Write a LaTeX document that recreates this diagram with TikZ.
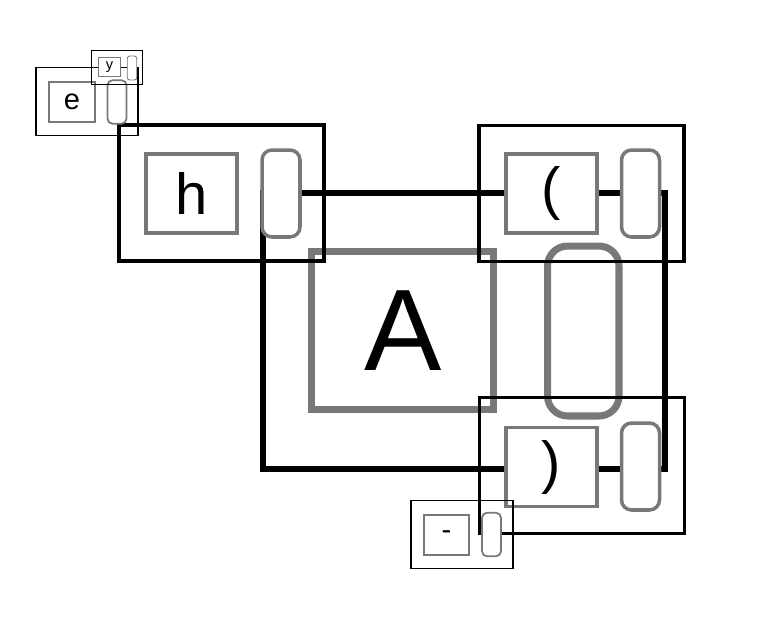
\documentclass[tikz,border=0pt]{standalone}
\usepackage{fontspec}
\setmainfont{Liberation Sans}
\usepackage{tikz}
\usetikzlibrary{positioning}

\definecolor{boxgray}{RGB}{120,120,120}

\begin{document}
\begin{tikzpicture}[
    x=0.02cm, y=-0.02cm,
    frame/.style={draw=black, inner sep=0pt, minimum width=#1*4.1cm, minimum height=#1*2.72cm, line width=#1*1.9pt},
    sq/.style={draw=boxgray, fill=white, inner sep=0pt, minimum width=#1*1.82cm, minimum height=#1*1.58cm, line width=#1*2pt},
    pill/.style={draw=boxgray, fill=white, inner sep=0pt, rounded corners=#1*0.2cm, minimum width=#1*0.76cm, minimum height=#1*1.74cm, line width=#1*2pt}
]
    \useasboundingbox (0,0) rectangle (760,632);

    % big block
    \node[frame=2, minimum width=8.04cm, minimum height=5.52cm] (outer) at (464,331) {};
    \node[sq=2, font=\fontsize{66}{66}\selectfont] (asq) at (402.75,330.75) {A};
    \node[pill=2, minimum width=1.43cm, minimum height=3.4cm] (apill) at (583.25,331) {};

    % h block
    \node[frame=1] (hbox) at (221.5,193) {};
    \node[sq=1, font=\fontsize{33}{33}\selectfont] (hsq) at (191.5,193.5) {h};
    \node[pill=1] (hpill) at (281,193.5) {};

    % e block
    \node[frame=0.5] (ebox) at (87,101.5) {};
    \node[sq=0.5, font=\fontsize{16.5}{16.5}\selectfont] (esq) at (72,102) {e};
    \node[pill=0.5] (epill) at (117,102) {};

    % y block
    \node[frame=0.25] (ybox) at (117.25,67.25) {};
    \node[sq=0.25, font=\fontsize{8.3}{8.3}\selectfont] (ysq) at (109.5,67) {y};
    \node[pill=0.25, minimum height=0.48cm] (ypill) at (132,68) {};

    % ( block
    \node[frame=1] (lbox) at (581.5,193.5) {};
    \node[sq=1, font=\fontsize{33}{33}\selectfont] (lsq) at (551.5,193.5) {(};
    \node[pill=1] (lpill) at (640.5,193.5) {};

    % ) block
    \node[frame=1] (rbox) at (582,465.5) {};
    \node[sq=1, font=\fontsize{33}{33}\selectfont] (rsq) at (551.5,467) {)};
    \node[pill=1] (rpill) at (640.5,466.5) {};

    % - block
    \node[frame=0.5] (mbox) at (462,534.5) {};
    \node[sq=0.5, font=\fontsize{16.5}{16.5}\selectfont] (msq) at (446.5,535) {-};
    \node[pill=0.5] (mpill) at (491.5,534.5) {};

\end{tikzpicture}
\end{document}
